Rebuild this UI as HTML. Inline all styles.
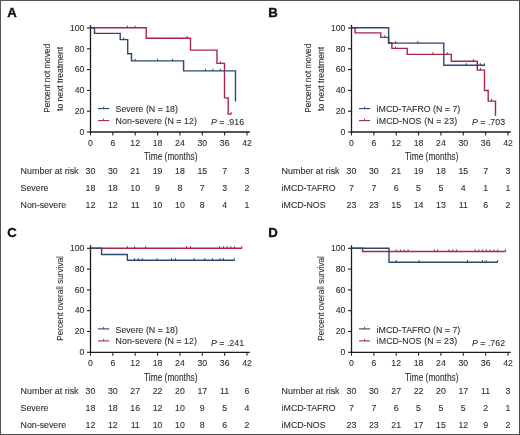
<!DOCTYPE html>
<html><head><meta charset="utf-8"><style>
html,body{margin:0;padding:0;background:#fff;}
#fig{position:relative;width:520px;height:435px;overflow:hidden;background:#fff;}
#fig svg{position:absolute;left:0;top:0;filter:blur(0.35px);}
#fig svg text{stroke:#2e2e2e;stroke-width:0.1px;}
#fig .bd{position:absolute;left:0;top:0;width:520px;height:435px;box-sizing:border-box;border-top:1px solid #555;border-left:1px solid #555;border-right:1px solid #4a4a4a;border-bottom:1px solid #4a4a4a;}
</style></head><body>
<div id="fig">
<svg width="520" height="435" viewBox="0 0 520 435" font-family="'Liberation Sans', sans-serif">
<g transform="translate(0,0)">
<text x="7.2" y="16.6" font-size="13.2" font-weight="bold" fill="#111" style="stroke:#111;stroke-width:0.35px">A</text>
<g stroke="#1c1c1c" stroke-width="1.3" fill="none">
<line x1="90.5" y1="25" x2="90.5" y2="132.6"/>
<line x1="89.9" y1="132.0" x2="249.8" y2="132.0"/>
<line x1="87" y1="132.00" x2="90.5" y2="132.00" stroke-width="1.1"/>
<line x1="87" y1="111.20" x2="90.5" y2="111.20" stroke-width="1.1"/>
<line x1="87" y1="90.40" x2="90.5" y2="90.40" stroke-width="1.1"/>
<line x1="87" y1="69.60" x2="90.5" y2="69.60" stroke-width="1.1"/>
<line x1="87" y1="48.80" x2="90.5" y2="48.80" stroke-width="1.1"/>
<line x1="87" y1="28.00" x2="90.5" y2="28.00" stroke-width="1.1"/>
<line x1="90.50" y1="132.0" x2="90.50" y2="135.4" stroke-width="1.05"/>
<line x1="112.86" y1="132.0" x2="112.86" y2="135.4" stroke-width="1.05"/>
<line x1="135.21" y1="132.0" x2="135.21" y2="135.4" stroke-width="1.05"/>
<line x1="157.57" y1="132.0" x2="157.57" y2="135.4" stroke-width="1.05"/>
<line x1="179.92" y1="132.0" x2="179.92" y2="135.4" stroke-width="1.05"/>
<line x1="202.28" y1="132.0" x2="202.28" y2="135.4" stroke-width="1.05"/>
<line x1="224.64" y1="132.0" x2="224.64" y2="135.4" stroke-width="1.05"/>
<line x1="246.99" y1="132.0" x2="246.99" y2="135.4" stroke-width="1.05"/>
</g>
<g font-size="8.7" fill="#2e2e2e" text-anchor="end">
<text x="84.4" y="134.80">0</text>
<text x="84.4" y="114.00">20</text>
<text x="84.4" y="93.20">40</text>
<text x="84.4" y="72.40">60</text>
<text x="84.4" y="51.60">80</text>
<text x="84.4" y="30.80">100</text>
</g>
<g font-size="8.7" fill="#2e2e2e" text-anchor="middle">
<text x="90.50" y="146.1">0</text>
<text x="112.86" y="146.1">6</text>
<text x="135.21" y="146.1">12</text>
<text x="157.57" y="146.1">18</text>
<text x="179.92" y="146.1">24</text>
<text x="202.28" y="146.1">30</text>
<text x="224.64" y="146.1">36</text>
<text x="246.99" y="146.1">42</text>
</g>
<text x="170.8" y="160.3" font-size="10.2" fill="#2e2e2e" text-anchor="middle" textLength="53.4" lengthAdjust="spacingAndGlyphs">Time (months)</text>
<text transform="translate(49.9,78.3) rotate(-90)" font-size="9.8" fill="#2e2e2e" text-anchor="middle" textLength="69.0" lengthAdjust="spacingAndGlyphs">Percent not moved</text>
<text transform="translate(62.9,78.9) rotate(-90)" font-size="9.8" fill="#2e2e2e" text-anchor="middle" textLength="64.0" lengthAdjust="spacingAndGlyphs">to next treatment</text>
<g stroke-width="1.1"><line x1="98" y1="108.6" x2="109.2" y2="108.6" stroke="#2b486e"/><line x1="103.6" y1="106.6" x2="103.6" y2="108.6" stroke="#2b486e" stroke-width="0.9"/>
<line x1="98" y1="120.6" x2="109.2" y2="120.6" stroke="#a5264a"/><line x1="103.6" y1="118.6" x2="103.6" y2="120.6" stroke="#a5264a" stroke-width="0.9"/></g>
<text x="115.6" y="112.3" font-size="8.8" fill="#2e2e2e">Severe (N = 18)</text>
<text x="115.6" y="123.9" font-size="8.8" fill="#2e2e2e" textLength="81.4" lengthAdjust="spacing">Non-severe (N = 12)</text>
<text x="211" y="125.3" font-size="8.8" fill="#2e2e2e"><tspan font-style="italic">P</tspan> = .916</text>
<text x="20.6" y="174.1" font-size="8.8" fill="#2e2e2e" textLength="58" lengthAdjust="spacingAndGlyphs">Number at risk</text>
<text x="90.50" y="174.1" font-size="8.8" fill="#2e2e2e" text-anchor="middle">30</text>
<text x="112.86" y="174.1" font-size="8.8" fill="#2e2e2e" text-anchor="middle">30</text>
<text x="135.21" y="174.1" font-size="8.8" fill="#2e2e2e" text-anchor="middle">21</text>
<text x="157.57" y="174.1" font-size="8.8" fill="#2e2e2e" text-anchor="middle">19</text>
<text x="179.92" y="174.1" font-size="8.8" fill="#2e2e2e" text-anchor="middle">18</text>
<text x="202.28" y="174.1" font-size="8.8" fill="#2e2e2e" text-anchor="middle">15</text>
<text x="224.64" y="174.1" font-size="8.8" fill="#2e2e2e" text-anchor="middle">7</text>
<text x="246.99" y="174.1" font-size="8.8" fill="#2e2e2e" text-anchor="middle">3</text>
<text x="20.6" y="190.9" font-size="8.8" fill="#2e2e2e">Severe</text>
<text x="90.50" y="190.9" font-size="8.8" fill="#2e2e2e" text-anchor="middle">18</text>
<text x="112.86" y="190.9" font-size="8.8" fill="#2e2e2e" text-anchor="middle">18</text>
<text x="135.21" y="190.9" font-size="8.8" fill="#2e2e2e" text-anchor="middle">10</text>
<text x="157.57" y="190.9" font-size="8.8" fill="#2e2e2e" text-anchor="middle">9</text>
<text x="179.92" y="190.9" font-size="8.8" fill="#2e2e2e" text-anchor="middle">8</text>
<text x="202.28" y="190.9" font-size="8.8" fill="#2e2e2e" text-anchor="middle">7</text>
<text x="224.64" y="190.9" font-size="8.8" fill="#2e2e2e" text-anchor="middle">3</text>
<text x="246.99" y="190.9" font-size="8.8" fill="#2e2e2e" text-anchor="middle">2</text>
<text x="20.6" y="207.6" font-size="8.8" fill="#2e2e2e">Non-severe</text>
<text x="90.50" y="207.6" font-size="8.8" fill="#2e2e2e" text-anchor="middle">12</text>
<text x="112.86" y="207.6" font-size="8.8" fill="#2e2e2e" text-anchor="middle">12</text>
<text x="135.21" y="207.6" font-size="8.8" fill="#2e2e2e" text-anchor="middle">11</text>
<text x="157.57" y="207.6" font-size="8.8" fill="#2e2e2e" text-anchor="middle">10</text>
<text x="179.92" y="207.6" font-size="8.8" fill="#2e2e2e" text-anchor="middle">10</text>
<text x="202.28" y="207.6" font-size="8.8" fill="#2e2e2e" text-anchor="middle">8</text>
<text x="224.64" y="207.6" font-size="8.8" fill="#2e2e2e" text-anchor="middle">4</text>
<text x="246.99" y="207.6" font-size="8.8" fill="#2e2e2e" text-anchor="middle">1</text>
<g transform="translate(0,0)">
<path d="M90.5 27.8 H146.2 V38.3 H190.5 V50.1 H217 V63.4 H224.5 V97.9 H228.2 V114.1 H231.4" fill="none" stroke="#a5264a" stroke-width="1.4" stroke-linejoin="miter" stroke-linecap="butt"/>
<line x1="127.4" y1="25.70" x2="127.4" y2="27.80" stroke="#a5264a" stroke-width="1"/><line x1="135.1" y1="25.70" x2="135.1" y2="27.80" stroke="#a5264a" stroke-width="1"/><line x1="187.1" y1="36.20" x2="187.1" y2="38.30" stroke="#a5264a" stroke-width="1"/><line x1="220.4" y1="61.30" x2="220.4" y2="63.40" stroke="#a5264a" stroke-width="1"/><line x1="231.2" y1="112.00" x2="231.2" y2="114.10" stroke="#a5264a" stroke-width="1"/>
<path d="M90.5 27.8 H94.5 V33.4 H120.2 V39.6 H127.7 V53.7 H131.5 V60.9 H183.6 V70.9 H235.5 V101.5" fill="none" stroke="#2b486e" stroke-width="1.4" stroke-linejoin="miter" stroke-linecap="butt"/>
<line x1="123.7" y1="37.50" x2="123.7" y2="39.60" stroke="#2b486e" stroke-width="1"/><line x1="135.1" y1="58.80" x2="135.1" y2="60.90" stroke="#2b486e" stroke-width="1"/><line x1="157.4" y1="58.80" x2="157.4" y2="60.90" stroke="#2b486e" stroke-width="1"/><line x1="172.4" y1="58.80" x2="172.4" y2="60.90" stroke="#2b486e" stroke-width="1"/><line x1="205.5" y1="68.80" x2="205.5" y2="70.90" stroke="#2b486e" stroke-width="1"/><line x1="212.9" y1="68.80" x2="212.9" y2="70.90" stroke="#2b486e" stroke-width="1"/><line x1="220.4" y1="68.80" x2="220.4" y2="70.90" stroke="#2b486e" stroke-width="1"/>
</g>
</g>
<g transform="translate(261.0,0)">
<text x="7.2" y="16.6" font-size="13.2" font-weight="bold" fill="#111" style="stroke:#111;stroke-width:0.35px">B</text>
<g stroke="#1c1c1c" stroke-width="1.3" fill="none">
<line x1="90.5" y1="25" x2="90.5" y2="132.6"/>
<line x1="89.9" y1="132.0" x2="249.8" y2="132.0"/>
<line x1="87" y1="132.00" x2="90.5" y2="132.00" stroke-width="1.1"/>
<line x1="87" y1="111.20" x2="90.5" y2="111.20" stroke-width="1.1"/>
<line x1="87" y1="90.40" x2="90.5" y2="90.40" stroke-width="1.1"/>
<line x1="87" y1="69.60" x2="90.5" y2="69.60" stroke-width="1.1"/>
<line x1="87" y1="48.80" x2="90.5" y2="48.80" stroke-width="1.1"/>
<line x1="87" y1="28.00" x2="90.5" y2="28.00" stroke-width="1.1"/>
<line x1="90.50" y1="132.0" x2="90.50" y2="135.4" stroke-width="1.05"/>
<line x1="112.86" y1="132.0" x2="112.86" y2="135.4" stroke-width="1.05"/>
<line x1="135.21" y1="132.0" x2="135.21" y2="135.4" stroke-width="1.05"/>
<line x1="157.57" y1="132.0" x2="157.57" y2="135.4" stroke-width="1.05"/>
<line x1="179.92" y1="132.0" x2="179.92" y2="135.4" stroke-width="1.05"/>
<line x1="202.28" y1="132.0" x2="202.28" y2="135.4" stroke-width="1.05"/>
<line x1="224.64" y1="132.0" x2="224.64" y2="135.4" stroke-width="1.05"/>
<line x1="246.99" y1="132.0" x2="246.99" y2="135.4" stroke-width="1.05"/>
</g>
<g font-size="8.7" fill="#2e2e2e" text-anchor="end">
<text x="84.4" y="134.80">0</text>
<text x="84.4" y="114.00">20</text>
<text x="84.4" y="93.20">40</text>
<text x="84.4" y="72.40">60</text>
<text x="84.4" y="51.60">80</text>
<text x="84.4" y="30.80">100</text>
</g>
<g font-size="8.7" fill="#2e2e2e" text-anchor="middle">
<text x="90.50" y="146.1">0</text>
<text x="112.86" y="146.1">6</text>
<text x="135.21" y="146.1">12</text>
<text x="157.57" y="146.1">18</text>
<text x="179.92" y="146.1">24</text>
<text x="202.28" y="146.1">30</text>
<text x="224.64" y="146.1">36</text>
<text x="246.99" y="146.1">42</text>
</g>
<text x="170.8" y="160.3" font-size="10.2" fill="#2e2e2e" text-anchor="middle" textLength="53.4" lengthAdjust="spacingAndGlyphs">Time (months)</text>
<text transform="translate(49.9,78.3) rotate(-90)" font-size="9.8" fill="#2e2e2e" text-anchor="middle" textLength="69.0" lengthAdjust="spacingAndGlyphs">Percent not moved</text>
<text transform="translate(62.9,78.9) rotate(-90)" font-size="9.8" fill="#2e2e2e" text-anchor="middle" textLength="64.0" lengthAdjust="spacingAndGlyphs">to next treatment</text>
<g stroke-width="1.1"><line x1="98" y1="108.6" x2="109.2" y2="108.6" stroke="#2b486e"/><line x1="103.6" y1="106.6" x2="103.6" y2="108.6" stroke="#2b486e" stroke-width="0.9"/>
<line x1="98" y1="120.6" x2="109.2" y2="120.6" stroke="#a5264a"/><line x1="103.6" y1="118.6" x2="103.6" y2="120.6" stroke="#a5264a" stroke-width="0.9"/></g>
<text x="115.6" y="112.3" font-size="8.8" fill="#2e2e2e">iMCD-TAFRO (N = 7)</text>
<text x="115.6" y="123.9" font-size="8.8" fill="#2e2e2e" textLength="80.5" lengthAdjust="spacing">iMCD-NOS (N = 23)</text>
<text x="211" y="125.3" font-size="8.8" fill="#2e2e2e"><tspan font-style="italic">P</tspan> = .703</text>
<text x="20.6" y="174.1" font-size="8.8" fill="#2e2e2e" textLength="58" lengthAdjust="spacingAndGlyphs">Number at risk</text>
<text x="90.50" y="174.1" font-size="8.8" fill="#2e2e2e" text-anchor="middle">30</text>
<text x="112.86" y="174.1" font-size="8.8" fill="#2e2e2e" text-anchor="middle">30</text>
<text x="135.21" y="174.1" font-size="8.8" fill="#2e2e2e" text-anchor="middle">21</text>
<text x="157.57" y="174.1" font-size="8.8" fill="#2e2e2e" text-anchor="middle">19</text>
<text x="179.92" y="174.1" font-size="8.8" fill="#2e2e2e" text-anchor="middle">18</text>
<text x="202.28" y="174.1" font-size="8.8" fill="#2e2e2e" text-anchor="middle">15</text>
<text x="224.64" y="174.1" font-size="8.8" fill="#2e2e2e" text-anchor="middle">7</text>
<text x="246.99" y="174.1" font-size="8.8" fill="#2e2e2e" text-anchor="middle">3</text>
<text x="20.6" y="190.9" font-size="8.8" fill="#2e2e2e">iMCD-TAFRO</text>
<text x="90.50" y="190.9" font-size="8.8" fill="#2e2e2e" text-anchor="middle">7</text>
<text x="112.86" y="190.9" font-size="8.8" fill="#2e2e2e" text-anchor="middle">7</text>
<text x="135.21" y="190.9" font-size="8.8" fill="#2e2e2e" text-anchor="middle">6</text>
<text x="157.57" y="190.9" font-size="8.8" fill="#2e2e2e" text-anchor="middle">5</text>
<text x="179.92" y="190.9" font-size="8.8" fill="#2e2e2e" text-anchor="middle">5</text>
<text x="202.28" y="190.9" font-size="8.8" fill="#2e2e2e" text-anchor="middle">4</text>
<text x="224.64" y="190.9" font-size="8.8" fill="#2e2e2e" text-anchor="middle">1</text>
<text x="246.99" y="190.9" font-size="8.8" fill="#2e2e2e" text-anchor="middle">1</text>
<text x="20.6" y="207.6" font-size="8.8" fill="#2e2e2e">iMCD-NOS</text>
<text x="90.50" y="207.6" font-size="8.8" fill="#2e2e2e" text-anchor="middle">23</text>
<text x="112.86" y="207.6" font-size="8.8" fill="#2e2e2e" text-anchor="middle">23</text>
<text x="135.21" y="207.6" font-size="8.8" fill="#2e2e2e" text-anchor="middle">15</text>
<text x="157.57" y="207.6" font-size="8.8" fill="#2e2e2e" text-anchor="middle">14</text>
<text x="179.92" y="207.6" font-size="8.8" fill="#2e2e2e" text-anchor="middle">13</text>
<text x="202.28" y="207.6" font-size="8.8" fill="#2e2e2e" text-anchor="middle">11</text>
<text x="224.64" y="207.6" font-size="8.8" fill="#2e2e2e" text-anchor="middle">6</text>
<text x="246.99" y="207.6" font-size="8.8" fill="#2e2e2e" text-anchor="middle">2</text>
<g transform="translate(-261.0,0)">
<path d="M351.5 27.8 H355.1 V32.9 H380.8 V37.4 H388.6 V43 H391.9 V48.4 H407.2 V54.4 H451.3 V61.2 H477.3 V70.1 H484.5 V90.5 H488.2 V101.1 H495.5 V116" fill="none" stroke="#a5264a" stroke-width="1.4" stroke-linejoin="miter" stroke-linecap="butt"/>
<line x1="384.8" y1="35.30" x2="384.8" y2="37.40" stroke="#a5264a" stroke-width="1"/><line x1="395.6" y1="46.30" x2="395.6" y2="48.40" stroke="#a5264a" stroke-width="1"/><line x1="432.9" y1="52.30" x2="432.9" y2="54.40" stroke="#a5264a" stroke-width="1"/><line x1="447.3" y1="52.30" x2="447.3" y2="54.40" stroke="#a5264a" stroke-width="1"/><line x1="473.4" y1="59.10" x2="473.4" y2="61.20" stroke="#a5264a" stroke-width="1"/><line x1="480.6" y1="68.00" x2="480.6" y2="70.10" stroke="#a5264a" stroke-width="1"/><line x1="491.5" y1="99.00" x2="491.5" y2="101.10" stroke="#a5264a" stroke-width="1"/>
<path d="M351.5 27.8 H388.6 V43.1 H443.8 V65.3 H485" fill="none" stroke="#2b486e" stroke-width="1.4" stroke-linejoin="miter" stroke-linecap="butt"/>
<line x1="395.7" y1="41.00" x2="395.7" y2="43.10" stroke="#2b486e" stroke-width="1"/><line x1="417.9" y1="41.00" x2="417.9" y2="43.10" stroke="#2b486e" stroke-width="1"/><line x1="466.4" y1="63.20" x2="466.4" y2="65.30" stroke="#2b486e" stroke-width="1"/><line x1="480.3" y1="63.20" x2="480.3" y2="65.30" stroke="#2b486e" stroke-width="1"/><line x1="484.4" y1="63.20" x2="484.4" y2="65.30" stroke="#2b486e" stroke-width="1"/>
</g>
</g>
<g transform="translate(0,220.3)">
<text x="7.2" y="16.6" font-size="13.2" font-weight="bold" fill="#111" style="stroke:#111;stroke-width:0.35px">C</text>
<g stroke="#1c1c1c" stroke-width="1.3" fill="none">
<line x1="90.5" y1="25" x2="90.5" y2="132.6"/>
<line x1="89.9" y1="132.0" x2="249.8" y2="132.0"/>
<line x1="87" y1="132.00" x2="90.5" y2="132.00" stroke-width="1.1"/>
<line x1="87" y1="111.20" x2="90.5" y2="111.20" stroke-width="1.1"/>
<line x1="87" y1="90.40" x2="90.5" y2="90.40" stroke-width="1.1"/>
<line x1="87" y1="69.60" x2="90.5" y2="69.60" stroke-width="1.1"/>
<line x1="87" y1="48.80" x2="90.5" y2="48.80" stroke-width="1.1"/>
<line x1="87" y1="28.00" x2="90.5" y2="28.00" stroke-width="1.1"/>
<line x1="90.50" y1="132.0" x2="90.50" y2="135.4" stroke-width="1.05"/>
<line x1="112.86" y1="132.0" x2="112.86" y2="135.4" stroke-width="1.05"/>
<line x1="135.21" y1="132.0" x2="135.21" y2="135.4" stroke-width="1.05"/>
<line x1="157.57" y1="132.0" x2="157.57" y2="135.4" stroke-width="1.05"/>
<line x1="179.92" y1="132.0" x2="179.92" y2="135.4" stroke-width="1.05"/>
<line x1="202.28" y1="132.0" x2="202.28" y2="135.4" stroke-width="1.05"/>
<line x1="224.64" y1="132.0" x2="224.64" y2="135.4" stroke-width="1.05"/>
<line x1="246.99" y1="132.0" x2="246.99" y2="135.4" stroke-width="1.05"/>
</g>
<g font-size="8.7" fill="#2e2e2e" text-anchor="end">
<text x="84.4" y="134.80">0</text>
<text x="84.4" y="114.00">20</text>
<text x="84.4" y="93.20">40</text>
<text x="84.4" y="72.40">60</text>
<text x="84.4" y="51.60">80</text>
<text x="84.4" y="30.80">100</text>
</g>
<g font-size="8.7" fill="#2e2e2e" text-anchor="middle">
<text x="90.50" y="146.1">0</text>
<text x="112.86" y="146.1">6</text>
<text x="135.21" y="146.1">12</text>
<text x="157.57" y="146.1">18</text>
<text x="179.92" y="146.1">24</text>
<text x="202.28" y="146.1">30</text>
<text x="224.64" y="146.1">36</text>
<text x="246.99" y="146.1">42</text>
</g>
<text x="170.8" y="160.3" font-size="10.2" fill="#2e2e2e" text-anchor="middle" textLength="53.4" lengthAdjust="spacingAndGlyphs">Time (months)</text>
<text transform="translate(63.0,78.1) rotate(-90)" font-size="9.8" fill="#2e2e2e" text-anchor="middle" textLength="84.5" lengthAdjust="spacingAndGlyphs">Percent overall survival</text>
<g stroke-width="1.1"><line x1="98" y1="108.6" x2="109.2" y2="108.6" stroke="#2b486e"/><line x1="103.6" y1="106.6" x2="103.6" y2="108.6" stroke="#2b486e" stroke-width="0.9"/>
<line x1="98" y1="120.6" x2="109.2" y2="120.6" stroke="#a5264a"/><line x1="103.6" y1="118.6" x2="103.6" y2="120.6" stroke="#a5264a" stroke-width="0.9"/></g>
<text x="115.6" y="112.3" font-size="8.8" fill="#2e2e2e">Severe (N = 18)</text>
<text x="115.6" y="123.9" font-size="8.8" fill="#2e2e2e" textLength="81.4" lengthAdjust="spacing">Non-severe (N = 12)</text>
<text x="211" y="125.3" font-size="8.8" fill="#2e2e2e"><tspan font-style="italic">P</tspan> = .241</text>
<text x="20.6" y="174.1" font-size="8.8" fill="#2e2e2e" textLength="58" lengthAdjust="spacingAndGlyphs">Number at risk</text>
<text x="90.50" y="174.1" font-size="8.8" fill="#2e2e2e" text-anchor="middle">30</text>
<text x="112.86" y="174.1" font-size="8.8" fill="#2e2e2e" text-anchor="middle">30</text>
<text x="135.21" y="174.1" font-size="8.8" fill="#2e2e2e" text-anchor="middle">27</text>
<text x="157.57" y="174.1" font-size="8.8" fill="#2e2e2e" text-anchor="middle">22</text>
<text x="179.92" y="174.1" font-size="8.8" fill="#2e2e2e" text-anchor="middle">20</text>
<text x="202.28" y="174.1" font-size="8.8" fill="#2e2e2e" text-anchor="middle">17</text>
<text x="224.64" y="174.1" font-size="8.8" fill="#2e2e2e" text-anchor="middle">11</text>
<text x="246.99" y="174.1" font-size="8.8" fill="#2e2e2e" text-anchor="middle">6</text>
<text x="20.6" y="190.9" font-size="8.8" fill="#2e2e2e">Severe</text>
<text x="90.50" y="190.9" font-size="8.8" fill="#2e2e2e" text-anchor="middle">18</text>
<text x="112.86" y="190.9" font-size="8.8" fill="#2e2e2e" text-anchor="middle">18</text>
<text x="135.21" y="190.9" font-size="8.8" fill="#2e2e2e" text-anchor="middle">16</text>
<text x="157.57" y="190.9" font-size="8.8" fill="#2e2e2e" text-anchor="middle">12</text>
<text x="179.92" y="190.9" font-size="8.8" fill="#2e2e2e" text-anchor="middle">10</text>
<text x="202.28" y="190.9" font-size="8.8" fill="#2e2e2e" text-anchor="middle">9</text>
<text x="224.64" y="190.9" font-size="8.8" fill="#2e2e2e" text-anchor="middle">5</text>
<text x="246.99" y="190.9" font-size="8.8" fill="#2e2e2e" text-anchor="middle">4</text>
<text x="20.6" y="207.6" font-size="8.8" fill="#2e2e2e">Non-severe</text>
<text x="90.50" y="207.6" font-size="8.8" fill="#2e2e2e" text-anchor="middle">12</text>
<text x="112.86" y="207.6" font-size="8.8" fill="#2e2e2e" text-anchor="middle">12</text>
<text x="135.21" y="207.6" font-size="8.8" fill="#2e2e2e" text-anchor="middle">11</text>
<text x="157.57" y="207.6" font-size="8.8" fill="#2e2e2e" text-anchor="middle">10</text>
<text x="179.92" y="207.6" font-size="8.8" fill="#2e2e2e" text-anchor="middle">10</text>
<text x="202.28" y="207.6" font-size="8.8" fill="#2e2e2e" text-anchor="middle">8</text>
<text x="224.64" y="207.6" font-size="8.8" fill="#2e2e2e" text-anchor="middle">6</text>
<text x="246.99" y="207.6" font-size="8.8" fill="#2e2e2e" text-anchor="middle">2</text>
<g transform="translate(0,-220.3)">
<path d="M90.5 248.3 H242.2" fill="none" stroke="#a5264a" stroke-width="1.4" stroke-linejoin="miter" stroke-linecap="butt"/>
<line x1="127.4" y1="246.20" x2="127.4" y2="248.30" stroke="#a5264a" stroke-width="1"/><line x1="134.5" y1="246.20" x2="134.5" y2="248.30" stroke="#a5264a" stroke-width="1"/><line x1="145.6" y1="246.20" x2="145.6" y2="248.30" stroke="#a5264a" stroke-width="1"/><line x1="186.5" y1="246.20" x2="186.5" y2="248.30" stroke="#a5264a" stroke-width="1"/><line x1="190.4" y1="246.20" x2="190.4" y2="248.30" stroke="#a5264a" stroke-width="1"/><line x1="219.5" y1="246.20" x2="219.5" y2="248.30" stroke="#a5264a" stroke-width="1"/><line x1="223.4" y1="246.20" x2="223.4" y2="248.30" stroke="#a5264a" stroke-width="1"/><line x1="227.2" y1="246.20" x2="227.2" y2="248.30" stroke="#a5264a" stroke-width="1"/><line x1="230.9" y1="246.20" x2="230.9" y2="248.30" stroke="#a5264a" stroke-width="1"/><line x1="234.4" y1="246.20" x2="234.4" y2="248.30" stroke="#a5264a" stroke-width="1"/><line x1="241.8" y1="246.20" x2="241.8" y2="248.30" stroke="#a5264a" stroke-width="1"/>
<path d="M90.5 248.3 H101.6 V254.5 H127.4 V260.3 H234.6" fill="none" stroke="#2b486e" stroke-width="1.4" stroke-linejoin="miter" stroke-linecap="butt"/>
<line x1="134.5" y1="258.20" x2="134.5" y2="260.30" stroke="#2b486e" stroke-width="1"/><line x1="138.3" y1="258.20" x2="138.3" y2="260.30" stroke="#2b486e" stroke-width="1"/><line x1="142.3" y1="258.20" x2="142.3" y2="260.30" stroke="#2b486e" stroke-width="1"/><line x1="157.1" y1="258.20" x2="157.1" y2="260.30" stroke="#2b486e" stroke-width="1"/><line x1="171.5" y1="258.20" x2="171.5" y2="260.30" stroke="#2b486e" stroke-width="1"/><line x1="175.3" y1="258.20" x2="175.3" y2="260.30" stroke="#2b486e" stroke-width="1"/><line x1="194.1" y1="258.20" x2="194.1" y2="260.30" stroke="#2b486e" stroke-width="1"/><line x1="204.7" y1="258.20" x2="204.7" y2="260.30" stroke="#2b486e" stroke-width="1"/><line x1="212.4" y1="258.20" x2="212.4" y2="260.30" stroke="#2b486e" stroke-width="1"/><line x1="220.1" y1="258.20" x2="220.1" y2="260.30" stroke="#2b486e" stroke-width="1"/><line x1="223.5" y1="258.20" x2="223.5" y2="260.30" stroke="#2b486e" stroke-width="1"/><line x1="234.3" y1="258.20" x2="234.3" y2="260.30" stroke="#2b486e" stroke-width="1"/>
</g>
</g>
<g transform="translate(261.0,220.3)">
<text x="7.2" y="16.6" font-size="13.2" font-weight="bold" fill="#111" style="stroke:#111;stroke-width:0.35px">D</text>
<g stroke="#1c1c1c" stroke-width="1.3" fill="none">
<line x1="90.5" y1="25" x2="90.5" y2="132.6"/>
<line x1="89.9" y1="132.0" x2="249.8" y2="132.0"/>
<line x1="87" y1="132.00" x2="90.5" y2="132.00" stroke-width="1.1"/>
<line x1="87" y1="111.20" x2="90.5" y2="111.20" stroke-width="1.1"/>
<line x1="87" y1="90.40" x2="90.5" y2="90.40" stroke-width="1.1"/>
<line x1="87" y1="69.60" x2="90.5" y2="69.60" stroke-width="1.1"/>
<line x1="87" y1="48.80" x2="90.5" y2="48.80" stroke-width="1.1"/>
<line x1="87" y1="28.00" x2="90.5" y2="28.00" stroke-width="1.1"/>
<line x1="90.50" y1="132.0" x2="90.50" y2="135.4" stroke-width="1.05"/>
<line x1="112.86" y1="132.0" x2="112.86" y2="135.4" stroke-width="1.05"/>
<line x1="135.21" y1="132.0" x2="135.21" y2="135.4" stroke-width="1.05"/>
<line x1="157.57" y1="132.0" x2="157.57" y2="135.4" stroke-width="1.05"/>
<line x1="179.92" y1="132.0" x2="179.92" y2="135.4" stroke-width="1.05"/>
<line x1="202.28" y1="132.0" x2="202.28" y2="135.4" stroke-width="1.05"/>
<line x1="224.64" y1="132.0" x2="224.64" y2="135.4" stroke-width="1.05"/>
<line x1="246.99" y1="132.0" x2="246.99" y2="135.4" stroke-width="1.05"/>
</g>
<g font-size="8.7" fill="#2e2e2e" text-anchor="end">
<text x="84.4" y="134.80">0</text>
<text x="84.4" y="114.00">20</text>
<text x="84.4" y="93.20">40</text>
<text x="84.4" y="72.40">60</text>
<text x="84.4" y="51.60">80</text>
<text x="84.4" y="30.80">100</text>
</g>
<g font-size="8.7" fill="#2e2e2e" text-anchor="middle">
<text x="90.50" y="146.1">0</text>
<text x="112.86" y="146.1">6</text>
<text x="135.21" y="146.1">12</text>
<text x="157.57" y="146.1">18</text>
<text x="179.92" y="146.1">24</text>
<text x="202.28" y="146.1">30</text>
<text x="224.64" y="146.1">36</text>
<text x="246.99" y="146.1">42</text>
</g>
<text x="170.8" y="160.3" font-size="10.2" fill="#2e2e2e" text-anchor="middle" textLength="53.4" lengthAdjust="spacingAndGlyphs">Time (months)</text>
<text transform="translate(63.0,78.1) rotate(-90)" font-size="9.8" fill="#2e2e2e" text-anchor="middle" textLength="84.5" lengthAdjust="spacingAndGlyphs">Percent overall survival</text>
<g stroke-width="1.1"><line x1="98" y1="108.6" x2="109.2" y2="108.6" stroke="#2b486e"/><line x1="103.6" y1="106.6" x2="103.6" y2="108.6" stroke="#2b486e" stroke-width="0.9"/>
<line x1="98" y1="120.6" x2="109.2" y2="120.6" stroke="#a5264a"/><line x1="103.6" y1="118.6" x2="103.6" y2="120.6" stroke="#a5264a" stroke-width="0.9"/></g>
<text x="115.6" y="112.3" font-size="8.8" fill="#2e2e2e">iMCD-TAFRO (N = 7)</text>
<text x="115.6" y="123.9" font-size="8.8" fill="#2e2e2e" textLength="80.5" lengthAdjust="spacing">iMCD-NOS (N = 23)</text>
<text x="211" y="125.3" font-size="8.8" fill="#2e2e2e"><tspan font-style="italic">P</tspan> = .762</text>
<text x="20.6" y="174.1" font-size="8.8" fill="#2e2e2e" textLength="58" lengthAdjust="spacingAndGlyphs">Number at risk</text>
<text x="90.50" y="174.1" font-size="8.8" fill="#2e2e2e" text-anchor="middle">30</text>
<text x="112.86" y="174.1" font-size="8.8" fill="#2e2e2e" text-anchor="middle">30</text>
<text x="135.21" y="174.1" font-size="8.8" fill="#2e2e2e" text-anchor="middle">27</text>
<text x="157.57" y="174.1" font-size="8.8" fill="#2e2e2e" text-anchor="middle">22</text>
<text x="179.92" y="174.1" font-size="8.8" fill="#2e2e2e" text-anchor="middle">20</text>
<text x="202.28" y="174.1" font-size="8.8" fill="#2e2e2e" text-anchor="middle">17</text>
<text x="224.64" y="174.1" font-size="8.8" fill="#2e2e2e" text-anchor="middle">11</text>
<text x="246.99" y="174.1" font-size="8.8" fill="#2e2e2e" text-anchor="middle">3</text>
<text x="20.6" y="190.9" font-size="8.8" fill="#2e2e2e">iMCD-TAFRO</text>
<text x="90.50" y="190.9" font-size="8.8" fill="#2e2e2e" text-anchor="middle">7</text>
<text x="112.86" y="190.9" font-size="8.8" fill="#2e2e2e" text-anchor="middle">7</text>
<text x="135.21" y="190.9" font-size="8.8" fill="#2e2e2e" text-anchor="middle">6</text>
<text x="157.57" y="190.9" font-size="8.8" fill="#2e2e2e" text-anchor="middle">5</text>
<text x="179.92" y="190.9" font-size="8.8" fill="#2e2e2e" text-anchor="middle">5</text>
<text x="202.28" y="190.9" font-size="8.8" fill="#2e2e2e" text-anchor="middle">5</text>
<text x="224.64" y="190.9" font-size="8.8" fill="#2e2e2e" text-anchor="middle">2</text>
<text x="246.99" y="190.9" font-size="8.8" fill="#2e2e2e" text-anchor="middle">1</text>
<text x="20.6" y="207.6" font-size="8.8" fill="#2e2e2e">iMCD-NOS</text>
<text x="90.50" y="207.6" font-size="8.8" fill="#2e2e2e" text-anchor="middle">23</text>
<text x="112.86" y="207.6" font-size="8.8" fill="#2e2e2e" text-anchor="middle">23</text>
<text x="135.21" y="207.6" font-size="8.8" fill="#2e2e2e" text-anchor="middle">21</text>
<text x="157.57" y="207.6" font-size="8.8" fill="#2e2e2e" text-anchor="middle">17</text>
<text x="179.92" y="207.6" font-size="8.8" fill="#2e2e2e" text-anchor="middle">15</text>
<text x="202.28" y="207.6" font-size="8.8" fill="#2e2e2e" text-anchor="middle">12</text>
<text x="224.64" y="207.6" font-size="8.8" fill="#2e2e2e" text-anchor="middle">9</text>
<text x="246.99" y="207.6" font-size="8.8" fill="#2e2e2e" text-anchor="middle">2</text>
<g transform="translate(-261.0,-220.3)">
<path d="M351.5 248.3 H362.6 V251.5 H505.6" fill="none" stroke="#a5264a" stroke-width="1.4" stroke-linejoin="miter" stroke-linecap="butt"/>
<line x1="396.3" y1="249.40" x2="396.3" y2="251.50" stroke="#a5264a" stroke-width="1"/><line x1="400.4" y1="249.40" x2="400.4" y2="251.50" stroke="#a5264a" stroke-width="1"/><line x1="404.2" y1="249.40" x2="404.2" y2="251.50" stroke="#a5264a" stroke-width="1"/><line x1="408.1" y1="249.40" x2="408.1" y2="251.50" stroke="#a5264a" stroke-width="1"/><line x1="434.2" y1="249.40" x2="434.2" y2="251.50" stroke="#a5264a" stroke-width="1"/><line x1="437.6" y1="249.40" x2="437.6" y2="251.50" stroke="#a5264a" stroke-width="1"/><line x1="448.9" y1="249.40" x2="448.9" y2="251.50" stroke="#a5264a" stroke-width="1"/><line x1="452.6" y1="249.40" x2="452.6" y2="251.50" stroke="#a5264a" stroke-width="1"/><line x1="456.4" y1="249.40" x2="456.4" y2="251.50" stroke="#a5264a" stroke-width="1"/><line x1="475.3" y1="249.40" x2="475.3" y2="251.50" stroke="#a5264a" stroke-width="1"/><line x1="478.9" y1="249.40" x2="478.9" y2="251.50" stroke="#a5264a" stroke-width="1"/><line x1="482.7" y1="249.40" x2="482.7" y2="251.50" stroke="#a5264a" stroke-width="1"/><line x1="486.3" y1="249.40" x2="486.3" y2="251.50" stroke="#a5264a" stroke-width="1"/><line x1="490.2" y1="249.40" x2="490.2" y2="251.50" stroke="#a5264a" stroke-width="1"/><line x1="494" y1="249.40" x2="494" y2="251.50" stroke="#a5264a" stroke-width="1"/><line x1="497.7" y1="249.40" x2="497.7" y2="251.50" stroke="#a5264a" stroke-width="1"/><line x1="505.4" y1="249.40" x2="505.4" y2="251.50" stroke="#a5264a" stroke-width="1"/>
<path d="M351.5 248.3 H389 V262.2 H497.8" fill="none" stroke="#2b486e" stroke-width="1.4" stroke-linejoin="miter" stroke-linecap="butt"/>
<line x1="396.3" y1="260.10" x2="396.3" y2="262.20" stroke="#2b486e" stroke-width="1"/><line x1="419.2" y1="260.10" x2="419.2" y2="262.20" stroke="#2b486e" stroke-width="1"/><line x1="467.5" y1="260.10" x2="467.5" y2="262.20" stroke="#2b486e" stroke-width="1"/><line x1="482.5" y1="260.10" x2="482.5" y2="262.20" stroke="#2b486e" stroke-width="1"/><line x1="486.1" y1="260.10" x2="486.1" y2="262.20" stroke="#2b486e" stroke-width="1"/><line x1="497.6" y1="260.10" x2="497.6" y2="262.20" stroke="#2b486e" stroke-width="1"/>
</g>
</g>
</svg>
<div class="bd"></div>
</div>
</body></html>
